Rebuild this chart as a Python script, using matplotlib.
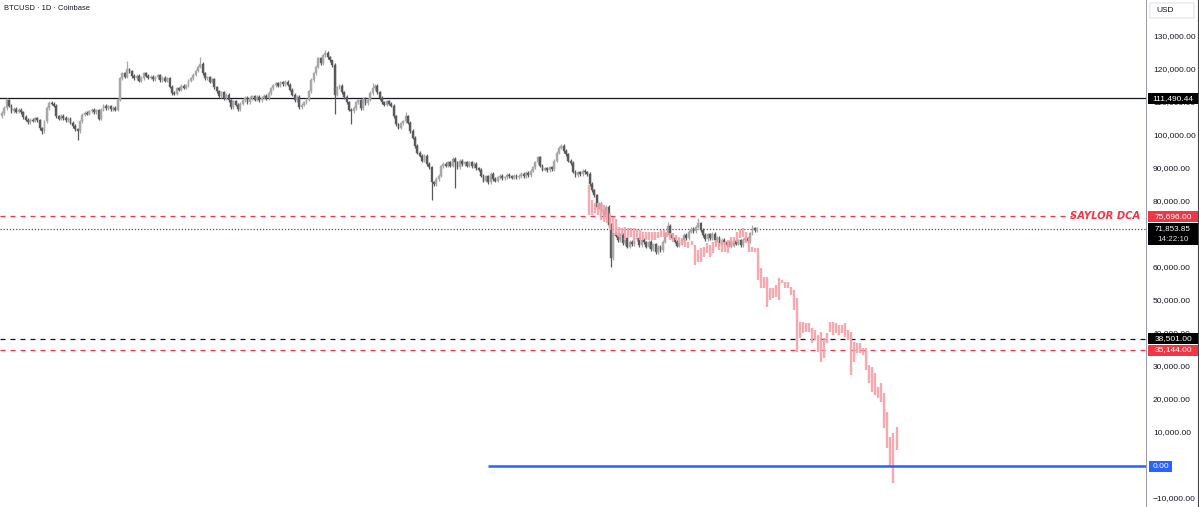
import matplotlib
matplotlib.use("Agg")
import matplotlib.pyplot as plt
from matplotlib.patches import Rectangle, FancyBboxPatch
import numpy as np

plt.rcParams['font.family'] = ['Liberation Sans', 'DejaVu Sans']

# ---------------- data (thousands of USD) ----------------
closes = [
    107.0, 108.5, 110.8, 109.2,
    107.6, 108.2, 107.4, 108.0, 107.2,
    105.8, 105.0,
    104.2, 105.0, 104.6, 105.4, 104.8,
    102.3, 101.4,
    104.5,
    108.5, 110.0,
    109.8, 109.2,
    106.0, 105.3, 106.2, 105.5, 104.8,
    105.2, 104.0, 103.0, 102.0, 101.5,
    104.5,
    106.5, 107.0, 106.8,
    107.5, 108.0, 107.3, 107.8, 105.2,
    108.0, 109.2, 108.5, 109.0, 108.2, 108.6, 108.0,
    111.0,
    117.5,
    119.0, 118.0, 120.2, 119.6, 118.2,
    117.5, 118.2, 116.8, 117.6, 119.0, 118.3, 117.7,
    118.0, 117.2, 117.8, 118.4, 117.0, 117.6, 116.8, 117.5, 115.0,
    113.0, 112.8,
    114.5, 114.0, 115.2, 114.6, 115.4,
    116.8, 117.5, 118.6, 119.8, 121.0,
    121.8,
    119.0, 117.5, 117.8, 116.5, 117.2,
    114.8, 113.5, 112.0, 113.2, 111.5, 112.5, 110.8,
    108.8, 110.5, 109.5, 108.2, 109.8,
    110.8, 111.6, 110.2, 111.5, 112.0, 111.0, 111.8, 110.8, 111.6, 112.2, 111.5,
    113.0, 114.5, 115.4, 116.0, 115.2, 116.3, 115.7, 116.5, 115.6, 114.0,
    112.5, 110.8, 111.8, 108.8,
    109.5, 110.2, 111.0, 113.5,
    117.0, 119.0, 121.0, 123.5, 122.0,
    124.5, 125.2, 123.8, 123.0,
    121.5, 112.5,
    114.8, 115.3, 113.2, 111.8,
    110.2, 108.0, 107.5,
    108.5, 110.2, 110.8, 108.5, 111.2, 110.0, 111.0,
    113.0, 114.5, 115.2,
    113.2, 111.5, 110.2, 109.5,
    110.5, 109.8, 109.2, 106.0,
    103.5, 102.5, 103.8,
    104.5, 106.0, 104.0, 101.5,
    99.5, 97.0, 95.0,
    94.0, 92.5, 94.0, 91.5, 90.5, 86.0,
    85.5, 87.0, 88.0,
    90.8, 91.5, 91.0, 92.0,
    91.0, 93.0, 92.0, 90.5, 92.5, 91.5, 92.0,
    91.0, 92.0, 90.8, 91.5, 90.2, 89.8, 88.0,
    86.5, 87.8, 86.0, 88.5, 87.0, 86.5, 87.5,
    88.0, 87.2, 87.5, 88.2, 87.8, 87.4, 88.0, 87.6, 87.9,
    88.5, 87.8, 88.9, 88.2,
    89.5, 90.5, 92.0, 93.5, 91.0,
    89.8, 90.2, 89.6, 90.5, 90.0,
    92.5, 95.0, 96.5, 97.0,
    95.5, 94.5, 92.5, 91.8,
    89.2, 88.2, 89.0, 88.5, 89.5,
    89.0, 88.5, 85.5,
    83.5, 82.0, 78.5,
    79.5, 77.5, 76.0, 78.5,
    73.0,
    63.0,
    70.5,
    69.8, 68.5, 70.2, 67.5, 69.0, 66.5, 68.0,
    67.2, 68.8, 69.0, 67.0, 68.5, 67.8,
    66.5, 68.0, 65.8, 67.2, 64.8, 66.5, 65.5, 68.0,
    70.5, 72.8, 70.0, 69.0,
    68.0, 66.8, 67.5, 68.5,
    70.0, 69.0, 71.0, 71.8, 71.2,
    72.5, 73.5, 71.5,
    70.0, 68.8, 70.2, 69.0, 70.4,
    68.5, 69.2, 67.2, 68.6, 67.8,
    67.0, 68.0, 66.8, 68.2, 67.4, 68.4, 67.0,
    68.5, 69.0, 68.2, 70.5, 72.0, 71.5, 71.853,
]
first_open = 106.0
# notable wick extremes: index -> value
wick_highs = {2: 111.6, 53: 122.8, 84: 124.0, 137: 126.2, 140: 122.5, 157: 116.2,
              171: 107.2, 237: 97.5, 282: 74.0, 295: 75.2, 318: 73.0}
wick_lows = {17: 100.6, 32: 98.8, 141: 106.8, 148: 103.5, 182: 80.6, 192: 84.2,
             258: 60.2}

# projected pattern (pink HL bars): highs and lows
pink_hi = [85.2, 80.6, 79.7, 79.7, 79.7, 79.1, 77.6, 76.7, 75.5, 75.0,
           72.4, 72.1, 72.4, 72.1, 72.1, 72.1, 71.8, 71.5, 70.9, 70.9,
           70.9, 70.9, 70.9, 70.9, 71.5, 71.5, 70.9, 70.6, 70.6, 70.0,
           69.4, 69.1, 68.5, 67.9,
           68.3, 67.0, 65.5, 66.0, 66.5, 67.5, 67.0, 68.0, 68.5, 67.5,
           68.5, 68.0, 68.5, 69.5, 69.5, 71.0, 71.7, 72.0, 71.0, 69.0,
           66.5, 66.0, 66.0, 59.9, 57.4, 57.4, 53.8, 53.8, 54.8, 56.9,
           56.4, 55.9, 55.9, 54.3, 53.3, 50.8, 43.7, 43.7, 43.2, 43.2,
           41.7, 41.2, 39.7, 40.7, 38.7, 40.2, 43.7, 43.7, 43.2, 42.7,
           42.7, 43.2, 41.2, 40.7, 37.7, 37.2, 37.2, 35.7, 35.7, 30.6,
           30.1, 28.1, 24.0, 25.1, 22.2, 16.5, 8.9, 9.9, 11.9]
pink_lo = [76.1, 76.1, 76.7, 76.1, 74.5, 73.9, 73.6, 71.5, 70.9, 70.0,
           69.4, 70.0, 68.5, 69.1, 69.4, 67.9, 69.4, 68.5, 68.5, 68.5,
           68.5, 68.5, 68.5, 69.1, 69.4, 69.4, 69.4, 68.5, 67.9, 68.5,
           67.6, 67.0, 66.4, 66.1,
           67.0, 60.9, 61.9, 61.9, 63.4, 64.5, 63.4, 64.5, 66.5, 65.5,
           64.9, 64.9, 64.5, 66.5, 67.5, 68.0, 69.0, 69.5, 67.5, 64.9,
           64.9, 64.9, 56.4, 53.8, 53.8, 48.3, 50.3, 50.8, 51.3, 50.3,
           55.4, 53.8, 53.8, 51.8, 47.3, 34.6, 38.7, 40.2, 40.7, 40.7,
           37.2, 38.2, 34.6, 31.6, 32.6, 37.2, 40.7, 39.7, 40.2, 39.7,
           40.2, 39.2, 38.2, 27.6, 31.6, 34.1, 34.1, 33.6, 29.1, 25.1,
           22.5, 21.5, 20.5, 19.5, 11.4, 5.4, -0.3, -5.2, 4.8]

hlines_solid = [111.49044]
price_now = 71.85385
saylor_dca = 75.696
black_dashed = 38.501
red_dashed = 35.144
zero_line = 0.0
# 70,000 is hidden behind the current-price box in the reference
yticks = [130, 120, 110, 100, 90, 80, 60, 50, 40, 30, 20, 10, 0, -10]

title = "BTCUSD \u00b7 1D \u00b7 Coinbase"

# ---------------- figure ----------------
W, H = 1199, 507
fig = plt.figure(figsize=(W / 100, H / 100), dpi=100)
fig.patch.set_facecolor("white")

AXR = 1146  # right edge of price pane in px
ax = fig.add_axes([0, 0, AXR / W, 1])
ax2 = fig.add_axes([AXR / W, 0, (W - AXR) / W, 1])

px_per_bar = 2.36
x0px = 2.0
ytop, ybot = (466 - 0) / 3.3, (466 - 507) / 3.3
ax.set_xlim(-x0px / px_per_bar, (AXR - x0px) / px_per_bar)
ax.set_ylim(ybot, ytop)
ax2.set_ylim(ybot, ytop)
ax2.set_xlim(0, 1)
for a in (ax, ax2):
    a.set_axis_off()

n = len(closes)
idx = np.arange(n)
c = np.array(closes)
o = np.concatenate([[first_open], c[:-1]])
hi = np.maximum(o, c) + 0.5
lo = np.minimum(o, c) - 0.5
for k, v in wick_highs.items():
    hi[k] = v
for k, v in wick_lows.items():
    lo[k] = v

up = c >= o
col_up, col_dn = "#a8a8a8", "#5a5a5a"
colors = np.where(up, col_up, col_dn)
ax.vlines(idx, lo, hi, colors=colors, linewidth=0.9, zorder=3)
body_b = np.minimum(o, c)
body_h = np.maximum(np.abs(c - o), 0.3)
ax.bar(idx, body_h, bottom=body_b, width=0.78, color=colors, edgecolor=colors,
       linewidth=0.3, zorder=3)

# pink pattern bars
pstart = (589 - x0px) / px_per_bar
pend = (896.5 - x0px) / px_per_bar
pidx = np.linspace(pstart, pend, len(pink_hi))
ax.vlines(pidx, pink_lo, pink_hi, colors="#f7a0a8", linewidth=1.7, alpha=0.9, zorder=4)

# horizontal lines
xl = ax.get_xlim()
ax.axhline(hlines_solid[0], color="#131722", lw=0.9, zorder=2)
ax.axhline(price_now, color="#555555", lw=0.9, ls=(0, (1, 1.5)), zorder=2)
ax.hlines(saylor_dca, xl[0], (1072 - x0px) / px_per_bar, color="#f23645", lw=0.9,
          linestyles=(0, (4, 4)), zorder=2)
ax.axhline(black_dashed, color="#131722", lw=0.9, ls=(0, (4, 4)), zorder=2)
ax.axhline(red_dashed, color="#f23645", lw=0.9, ls=(0, (4, 4)), zorder=2)
ax.hlines(zero_line, (488 - x0px) / px_per_bar, xl[1], color="#2962ff", lw=1.8, zorder=5)

ax.text((1140 - x0px) / px_per_bar, saylor_dca, "SAYLOR DCA", ha="right", va="center",
        color="#f23645", fontsize=7.2, fontstyle="italic", fontweight="bold",
        family=["DejaVu Sans"], zorder=6)

ax.text(4 / AXR, 1 - 8 / H, title, transform=ax.transAxes, ha="left", va="center",
        fontsize=5.4, color="#131722", zorder=7)

# ---------------- right price scale ----------------
ax2.axvline(0.0, color="#8a8e99", lw=1.2)
ax2.axvline(0.985, color="#444444", lw=0.8)
for t in yticks:
    ax2.text(7 / 53, t, f"{t * 1000:,.2f}".replace("-", "\u2212"), ha="left",
             va="center", fontsize=6.0, color="#131722", zorder=2)

box_h = 11 / 3.3


def label(yv, txt, bg, x1=0.04, x2=0.985):
    ax2.add_patch(Rectangle((x1, yv - box_h / 2), x2 - x1, box_h, facecolor=bg,
                            edgecolor="none", zorder=5))
    ax2.text((x1 + x2) / 2, yv, txt, ha="center", va="center", color="white",
             fontsize=6.0, zorder=6)


label(hlines_solid[0], "111,490.44", "#000000")
label(saylor_dca, "75,696.00", "#f23645")
# current price two-line box
ax2.add_patch(Rectangle((0.04, (466 - 245) / 3.3), 0.945, 22 / 3.3, facecolor="#000000",
                        edgecolor="none", zorder=5))
ax2.text(0.51, (466 - 228.5) / 3.3, "71,853.85", ha="center", va="center", color="white",
         fontsize=5.8, zorder=6)
ax2.text(0.51, (466 - 239.5) / 3.3, "14:22:10", ha="center", va="center", color="#dddddd",
         fontsize=5.8, zorder=6)
label(black_dashed, "38,501.00", "#000000")
label(red_dashed, "35,144.00", "#f23645")
label(zero_line, "0.00", "#2962ff", x1=0.057, x2=0.49)

ax2.add_patch(FancyBboxPatch((4 / 53, (466 - 18) / 3.3), 44 / 53, 15 / 3.3,
                             boxstyle="round,pad=0,rounding_size=0.05",
                             facecolor="white", edgecolor="#e0e3eb", lw=0.8, zorder=5,
                             mutation_aspect=3))
ax2.text(10 / 53, (466 - 10) / 3.3, "USD", ha="left", va="center", fontsize=6.0,
         color="#131722", zorder=6)

fig.savefig("out.png", dpi=100)
